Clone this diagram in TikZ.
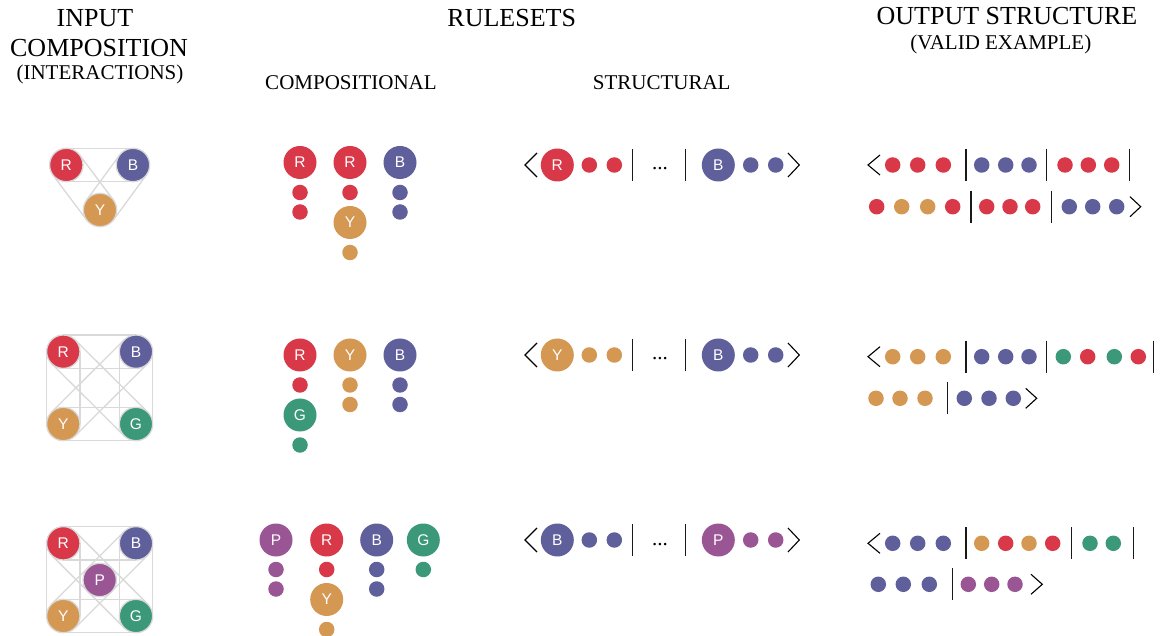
\documentclass[tikz,border=0pt]{standalone}
\usepackage{fontspec}
\setmainfont{Liberation Serif}
\newfontfamily\lettersf{Liberation Sans}
\usetikzlibrary{calc}
\pgfdeclarelayer{bg}
\pgfsetlayers{bg,main}
\definecolor{cR}{HTML}{D83848}
\definecolor{cB}{HTML}{5F5F9B}
\definecolor{cY}{HTML}{D49852}
\definecolor{cG}{HTML}{3B9878}
\definecolor{cP}{HTML}{9A5594}
\definecolor{hullgrey}{HTML}{D9D9D9}
% grey outline of the pair capsule between two atoms
\newcommand{\hullpair}[2]{%
  \draw[hull] ($(#1.center)!16.7pt!90:(#2.center)$) -- ($(#2.center)!16.7pt!-90:(#1.center)$);
  \draw[hull] ($(#1.center)!16.7pt!-90:(#2.center)$) -- ($(#2.center)!16.7pt!90:(#1.center)$);}
\begin{document}
\begin{tikzpicture}[x=1pt,y=-1pt,
  big/.style={circle,minimum size=33pt,inner sep=0pt,text=white,
    font=\lettersf\fontsize{15.5}{15.5}\selectfont},
  atom/.style={big,minimum size=33.4pt,draw=hullgrey,line width=1.3pt},
  dot/.style={circle,minimum size=15.5pt,inner sep=0pt},
  hull/.style={draw=hullgrey,line width=1.3pt},
  bar/.style={black!90,line width=1.2pt},
  chev/.style={black,line width=1.1pt,line join=miter},
  head/.style={font=\fontsize{26}{30}\selectfont,anchor=base,inner sep=0pt},
  sub/.style={font=\fontsize{21}{25}\selectfont,anchor=base,inner sep=0pt}]
\useasboundingbox (0,0) rectangle (1160,636);
\begin{pgfonlayer}{bg}
  \fill[white] (0,0) rectangle (1160,636);
\end{pgfonlayer}

% ---------------- headers ----------------
\node[head] (h-in1) at (95,27) {INPUT};
\node[head] (h-in2) at (99,57) {COMPOSITION};
\node[sub]  (h-in3) at (100,80) {(INTERACTIONS)};
\node[head] (h-rs)  at (511.7,27) {RULESETS};
\node[sub]  (h-cp)  at (351,90) {COMPOSITIONAL};
\node[sub]  (h-st)  at (661.7,90) {STRUCTURAL};
\node[head] (h-out) at (1007,25) {OUTPUT STRUCTURE};
\node[sub]  (h-val) at (1000.8,50) {(VALID EXAMPLE)};

% ---------------- input compositions ----------------
% three atoms
\node[atom,fill=cR] (i1R) at (66.3,165) {R};
\node[atom,fill=cB] (i1B) at (133,165) {B};
\node[atom,fill=cY] (i1Y) at (100,210) {Y};
\begin{pgfonlayer}{bg}
  \hullpair{i1R}{i1B}\hullpair{i1R}{i1Y}\hullpair{i1B}{i1Y}
\end{pgfonlayer}
% four atoms
\node[atom,fill=cR] (i2R) at (63.3,351.7) {R};
\node[atom,fill=cB] (i2B) at (136,351.7) {B};
\node[atom,fill=cY] (i2Y) at (63.3,424) {Y};
\node[atom,fill=cG] (i2G) at (136,424) {G};
\begin{pgfonlayer}{bg}
  \hullpair{i2R}{i2B}\hullpair{i2Y}{i2G}\hullpair{i2R}{i2Y}
  \hullpair{i2B}{i2G}\hullpair{i2R}{i2G}\hullpair{i2B}{i2Y}
\end{pgfonlayer}
% five atoms
\node[atom,fill=cR] (i3R) at (63.3,543.3) {R};
\node[atom,fill=cB] (i3B) at (136,543.3) {B};
\node[atom,fill=cY] (i3Y) at (63.3,616) {Y};
\node[atom,fill=cG] (i3G) at (136,616) {G};
\node[atom,fill=cP] (i3P) at (99.7,580) {P};
\begin{pgfonlayer}{bg}
  \hullpair{i3R}{i3B}\hullpair{i3Y}{i3G}\hullpair{i3R}{i3Y}
  \hullpair{i3B}{i3G}\hullpair{i3R}{i3G}\hullpair{i3B}{i3Y}
\end{pgfonlayer}

% ---------------- compositional rules ----------------
% row 1
\node[big,fill=cR] (c1a) at (300,162.5) {R};
\node[dot,fill=cR] (c1a1) at (300,192.5) {};
\node[dot,fill=cR] (c1a2) at (300,212) {};
\node[big,fill=cR] (c1b) at (350,162.5) {R};
\node[dot,fill=cR] (c1b1) at (350,192.5) {};
\node[big,fill=cY] (c1b2) at (350,222.5) {Y};
\node[dot,fill=cY] (c1b3) at (350,252.5) {};
\node[big,fill=cB] (c1c) at (400,162.5) {B};
\node[dot,fill=cB] (c1c1) at (400,192.5) {};
\node[dot,fill=cB] (c1c2) at (400,212) {};
% row 2
\node[big,fill=cR] (c2a) at (300,355) {R};
\node[dot,fill=cR] (c2a1) at (300,385) {};
\node[big,fill=cG] (c2a2) at (300,415) {G};
\node[dot,fill=cG] (c2a3) at (300,445) {};
\node[big,fill=cY] (c2b) at (350,355) {Y};
\node[dot,fill=cY] (c2b1) at (350,385) {};
\node[dot,fill=cY] (c2b2) at (350,404.5) {};
\node[big,fill=cB] (c2c) at (400,355) {B};
\node[dot,fill=cB] (c2c1) at (400,385) {};
\node[dot,fill=cB] (c2c2) at (400,404.5) {};
% row 3
\node[big,fill=cP] (c3a) at (276,540) {P};
\node[dot,fill=cP] (c3a1) at (276,569.5) {};
\node[dot,fill=cP] (c3a2) at (276,589) {};
\node[big,fill=cR] (c3b) at (326.7,540) {R};
\node[dot,fill=cR] (c3b1) at (326.7,569.5) {};
\node[big,fill=cY] (c3b2) at (326.7,599.5) {Y};
\node[dot,fill=cY] (c3b3) at (326.7,629.5) {};
\node[big,fill=cB] (c3c) at (376.7,540) {B};
\node[dot,fill=cB] (c3c1) at (376.7,569.5) {};
\node[dot,fill=cB] (c3c2) at (376.7,589) {};
\node[big,fill=cG] (c3d) at (423.3,540) {G};
\node[dot,fill=cG] (c3d1) at (423.3,569.5) {};

% ---------------- structural rules ----------------
\foreach \r/\yy/\ca/\la/\cb/\lb in {1/165/cR/R/cB/B, 2/355/cY/Y/cB/B, 3/540/cB/B/cP/P}{
  \draw[chev] (537,\yy-12) -- (525,\yy) -- (537,\yy+12);
  \node[big,fill=\ca] (s\r a) at (557.3,\yy) {\la};
  \node[dot,fill=\ca] (s\r a1) at (589.3,\yy) {};
  \node[dot,fill=\ca] (s\r a2) at (614.3,\yy) {};
  \draw[bar] (632.3,\yy-16) -- (632.3,\yy+16);
  \node[sub] (s\r dots) at (660,\yy+5) {...};
  \draw[bar] (685.7,\yy-16) -- (685.7,\yy+16);
  \node[big,fill=\cb] (s\r b) at (718.3,\yy) {\lb};
  \node[dot,fill=\cb] (s\r b1) at (750.7,\yy) {};
  \node[dot,fill=\cb] (s\r b2) at (775.7,\yy) {};
  \draw[chev] (788,\yy-12) -- (799.3,\yy) -- (788,\yy+12);
}

% ---------------- output structures ----------------
% row 1
\draw[chev] (880,155) -- (868,165) -- (880,175);
\foreach \x/\c [count=\i] in {892.7/cR,917.7/cR,943.3/cR,981.7/cB,1005.7/cB,1029/cB,1065/cR,1088.3/cR,1111.7/cR}
  \node[dot,fill=\c] (o1a\i) at (\x,165) {};
\foreach \x in {966,1046.7,1129.3} \draw[bar] (\x,149) -- (\x,181);
\foreach \x/\c [count=\i] in {876.7/cR,901.7/cY,927.7/cY,952.7/cR,986.7/cR,1010/cR,1032.7/cR,1069.3/cB,1092.7/cB,1116.7/cB}
  \node[dot,fill=\c] (o1b\i) at (\x,206.7) {};
\foreach \x in {971,1051.7} \draw[bar] (\x,190.7) -- (\x,222.7);
\draw[chev] (1130,196.7) -- (1140.7,206.7) -- (1130,216.7);
% row 2
\draw[chev] (880,346.7) -- (868,356.7) -- (880,366.7);
\foreach \x/\c [count=\i] in {892.7/cY,917.7/cY,943.3/cY,981.7/cB,1005.7/cB,1029/cB,1063.3/cG,1087.7/cR,1114.3/cG,1138.3/cR}
  \node[dot,fill=\c] (o2a\i) at (\x,356.7) {};
\foreach \x in {966,1046.7,1153.3} \draw[bar] (\x,340.7) -- (\x,372.7);
\foreach \x/\c [count=\i] in {876/cY,900/cY,925/cY,964.3/cB,989/cB,1013.3/cB}
  \node[dot,fill=\c] (o2b\i) at (\x,398.3) {};
\draw[bar] (947.3,382.3) -- (947.3,414.3);
\draw[chev] (1025.7,388.3) -- (1036.7,398.3) -- (1025.7,408.3);
% row 3
\draw[chev] (880,533.3) -- (868,543.3) -- (880,553.3);
\foreach \x/\c [count=\i] in {892.7/cB,917.7/cB,943.3/cB,981.7/cY,1005.7/cR,1029/cY,1052.7/cR,1090/cG,1113.3/cG}
  \node[dot,fill=\c] (o3a\i) at (\x,543.3) {};
\foreach \x in {966,1071.7,1133.3} \draw[bar] (\x,527.3) -- (\x,559.3);
\foreach \x/\c [count=\i] in {878.3/cB,903.3/cB,929.3/cB,968.3/cP,991.7/cP,1015/cP}
  \node[dot,fill=\c] (o3b\i) at (\x,584.3) {};
\draw[bar] (952.3,568.3) -- (952.3,600.3);
\draw[chev] (1031,574.3) -- (1042.3,584.3) -- (1031,594.3);
\end{tikzpicture}
\end{document}
